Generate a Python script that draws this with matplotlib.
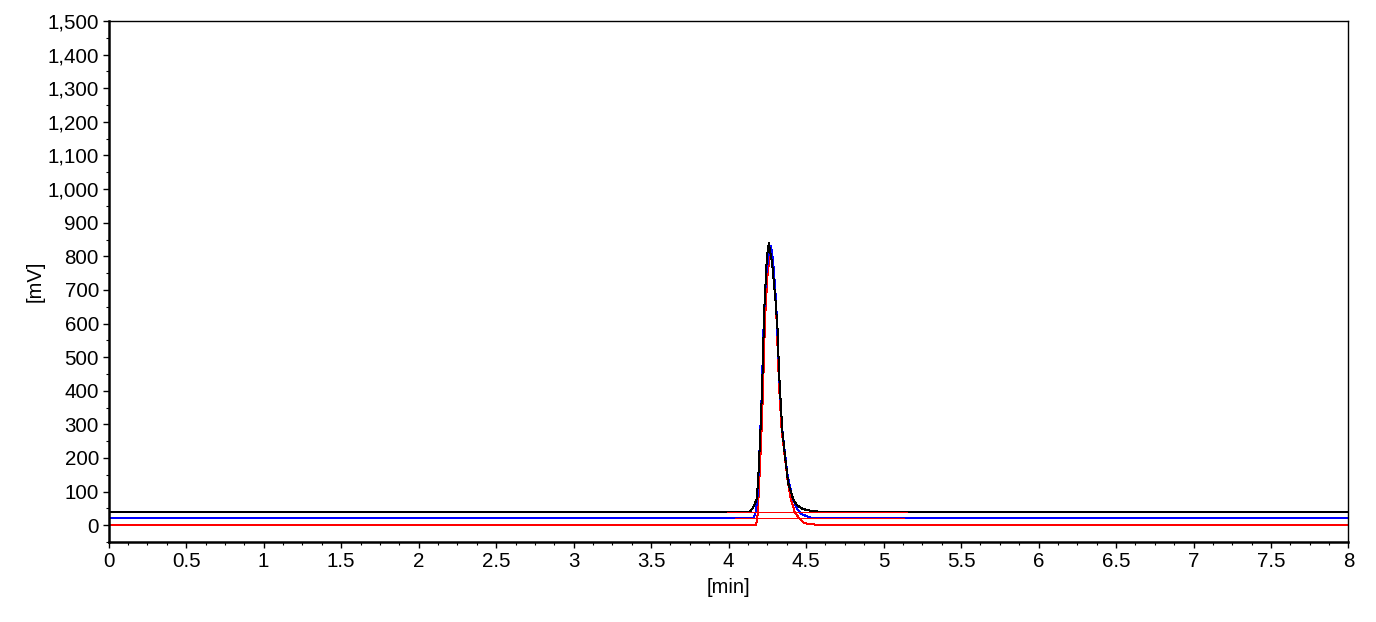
import matplotlib
matplotlib.use("Agg")
import matplotlib.pyplot as plt
from matplotlib.ticker import MultipleLocator, FuncFormatter

plt.rcParams['font.family'] = ['Liberation Sans', 'DejaVu Sans']

# traces (time in min, signal in mV)
black_t = [0, 4.135, 4.159, 4.181, 4.191, 4.206, 4.217, 4.230, 4.245, 4.252, 4.260, 4.268,
           4.281, 4.303, 4.316, 4.326, 4.346, 4.365, 4.385, 4.417, 4.44, 4.48, 4.53, 4.59, 8]
black_mv = [38, 38, 53, 77, 137, 285, 419, 640, 780, 815, 840, 815,
            780, 666, 582, 450, 285, 200, 125, 77, 60, 48, 43, 40, 38]

blue_t = [0, 4.16, 4.175, 4.188, 4.200, 4.213, 4.227, 4.242, 4.258, 4.272, 4.280,
          4.292, 4.307, 4.328, 4.346, 4.38, 4.41, 4.44, 4.47, 4.51, 4.54, 8]
blue_mv = [20, 20, 40, 90, 230, 380, 610, 740, 805, 831, 815,
           760, 660, 430, 285, 150, 85, 50, 33, 26, 21, 20]

red_t = [0, 4.175, 4.185, 4.195, 4.210, 4.222, 4.235, 4.250, 4.264, 4.271, 4.278,
         4.292, 4.307, 4.326, 4.342, 4.38, 4.40, 4.428, 4.46, 4.49, 4.57, 4.58, 8]
red_mv = [0, 0, 15, 100, 250, 400, 610, 740, 795, 805, 790,
          735, 640, 410, 285, 137, 80, 38, 18, 6, 1, 0, 0]

# integration baselines (red) drawn over black and blue traces
base_black_t = [3.99, 5.15]
base_black_mv = [38, 38]
base_blue_t = [4.04, 5.13]
base_blue_mv = [20, 20]

fig = plt.figure(figsize=(13.76, 6.22), dpi=100)
ax = fig.add_axes([0.079, 0.1286, 0.901, 0.8376])

ax.plot(red_t, red_mv, color='#ff0000', lw=0.72, antialiased=False)
ax.plot(blue_t, blue_mv, color='#0000ff', lw=0.72, antialiased=False)
ax.plot(black_t, black_mv, color='black', lw=0.72, antialiased=False)
ax.plot(base_black_t, base_black_mv, color='#ff0000', lw=0.72, antialiased=False)
ax.plot(base_blue_t, base_blue_mv, color='#ff0000', lw=0.72, antialiased=False)

ax.set_xlim(0, 8)
ax.set_ylim(-50, 1500)

ax.xaxis.set_major_locator(MultipleLocator(0.5))
ax.xaxis.set_minor_locator(MultipleLocator(0.125))
ax.yaxis.set_major_locator(MultipleLocator(100))
ax.yaxis.set_minor_locator(MultipleLocator(50))
ax.xaxis.set_major_formatter(FuncFormatter(lambda v, p: f'{v:g}'))
ax.yaxis.set_major_formatter(FuncFormatter(lambda v, p: f'{int(v):,}'))

ax.tick_params(which='major', length=4, width=1, labelsize=14.8, pad=3)
ax.tick_params(which='minor', length=2.5, width=0.8)

for s in ['left', 'bottom']:
    ax.spines[s].set_linewidth(1.8)
for s in ['top', 'right']:
    ax.spines[s].set_linewidth(1.0)

ax.set_xlabel('[min]', fontsize=14.5)
ax.set_ylabel('[mV]', fontsize=14.5)
ax.xaxis.set_label_coords(0.5, -0.069)
ax.yaxis.set_label_coords(-0.052, 0.5)

fig.savefig('out.png', dpi=100)
